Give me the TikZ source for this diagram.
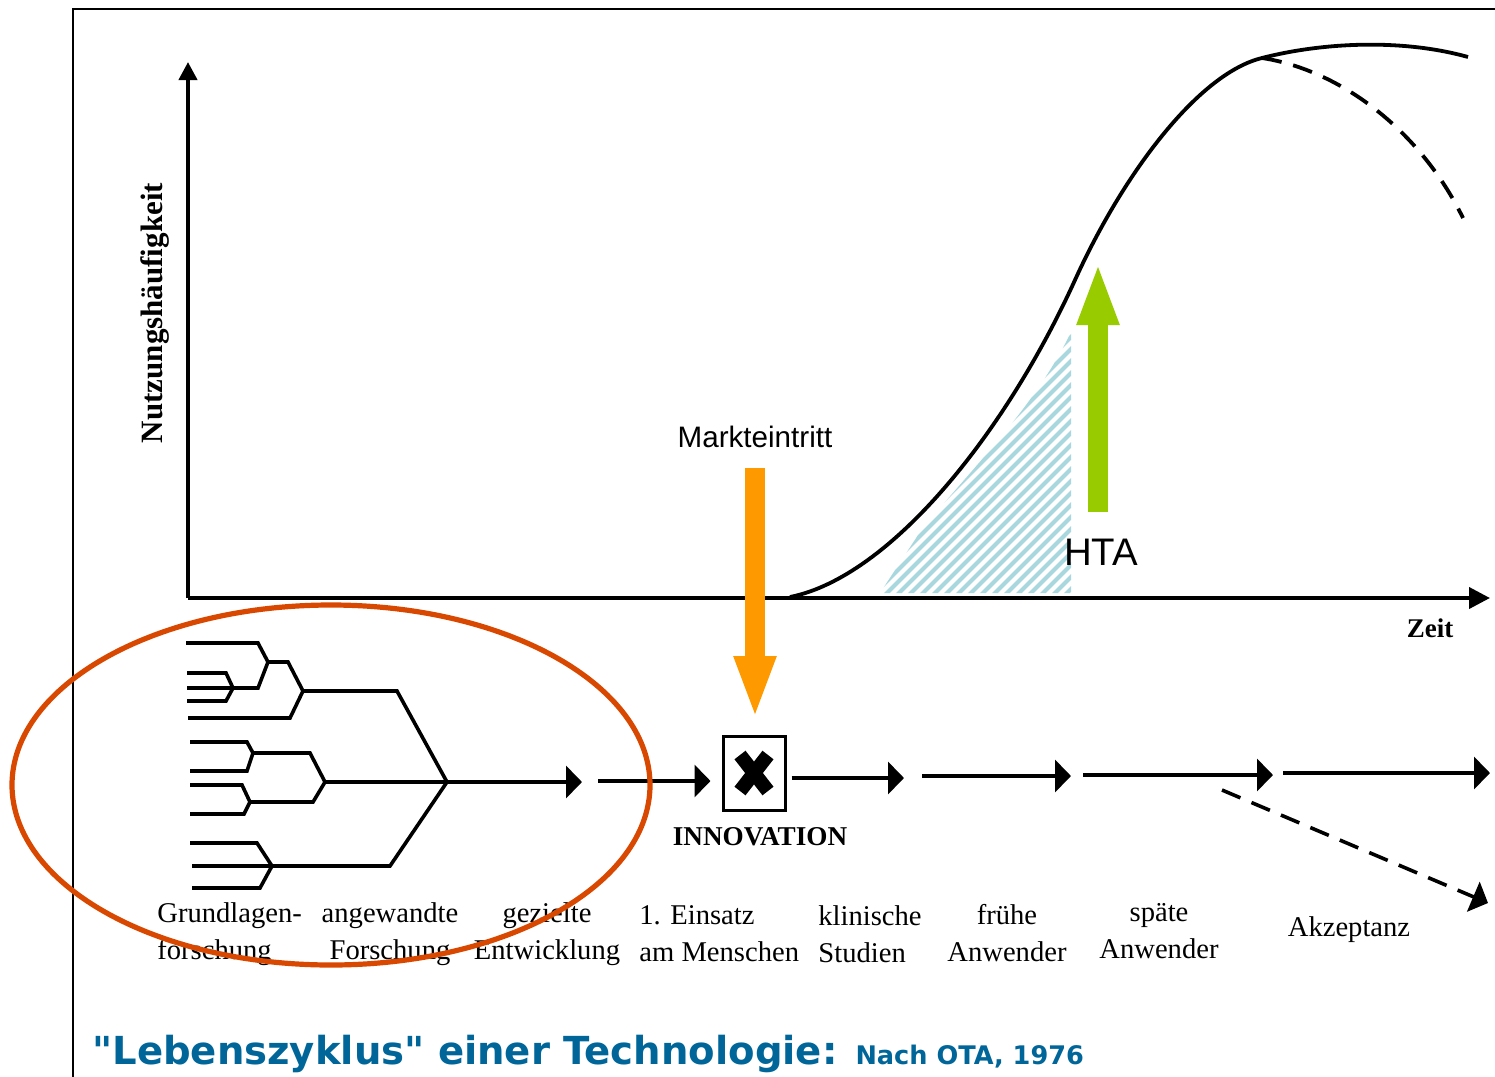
\documentclass[tikz,border=0pt]{standalone}
\usepackage{fontspec}
\setmainfont{Liberation Serif}
\newfontfamily\arialf{Liberation Sans}
\newfontfamily\titlef{DejaVu Sans}
\usetikzlibrary{arrows.meta}
\definecolor{ellred}{RGB}{217,72,0}
\definecolor{mkorange}{RGB}{255,153,0}
\definecolor{htagreen}{RGB}{153,204,0}
\definecolor{hatchblue}{RGB}{168,216,222}
\definecolor{titleblue}{RGB}{0,102,153}
\begin{document}
\begin{tikzpicture}[x=0.5pt,y=-0.5pt,
  yaxis/.style={line width=2pt,-{Triangle[length=9pt,width=9pt]}},
  xaxis/.style={line width=2pt,-{Triangle[length=10.5pt,width=10.5pt]}},
  flow/.style={line width=1.8pt,-{Triangle[length=8pt,width=16pt]}},
  dflow/.style={flow,dash pattern=on 10pt off 6pt},
  tree/.style={line width=1.8pt,line join=miter},
  lbl/.style={font=\fontsize{14.3}{18.5}\selectfont,inner sep=0pt},
  blockarrow/.style={line width=10pt,-{Triangle[length=31.5pt,width=19pt]}},
  hatchline/.style={hatchblue,line width=2pt}
]
\useasboundingbox (0,0) rectangle (1495,1077);
% frame
\draw[line width=1.2pt] (73,1077) -- (73,9) -- (1495,9);

% hatched area
\begin{scope}
\clip (880,593) -- (920,532) .. controls (968,472) and (1035,408) .. (1071,332) -- (1071,593) -- cycle;
\foreach \i in {0,...,45} \draw[hatchline] (700+\i*12,600) -- ++(400,-400);
\end{scope}

% axes
\coordinate (O) at (188,598);
\coordinate (Ytop) at (188,62);
\coordinate (Xend) at (1490,598);
\draw[yaxis] (O) -- (Ytop);
\draw[xaxis] (O) -- (Xend);
\node[font=\fontsize{15.5}{18}\selectfont\bfseries,rotate=90,inner sep=0pt] (ylab) at (155,313) {Nutzungshäufigkeit};
\node[font=\fontsize{13.5}{16}\selectfont\bfseries,inner sep=0pt] (xlab) at (1430,628) {Zeit};

% life cycle curve
\coordinate (cs) at (790,597);
\coordinate (ci) at (1075,280);
\coordinate (cb) at (1262,58);
\coordinate (ce) at (1468,57);
\coordinate (cd) at (1463,218);
\draw[line width=1.9pt] (cs) .. controls (890,577) and (1005,434) .. (ci)
  .. controls (1125,170) and (1200,73) .. (cb)
  .. controls (1320,43) and (1400,38) .. (ce);
\draw[line width=1.9pt,dash pattern=on 10pt off 6pt] (cb) .. controls (1340,70) and (1420,130) .. (cd);

% Markteintritt arrow
\node[font=\arialf\fontsize{14.8}{17}\selectfont,inner sep=0pt] (mk) at (755,437) {Markteintritt};
\coordinate (mks) at (755,468);
\coordinate (mke) at (755,719);
\draw[blockarrow,mkorange] (mks) -- (mke);

% HTA arrow
\node[font=\arialf\fontsize{19.2}{22}\selectfont,inner sep=0pt] (hta) at (1101,552) {HTA};
\coordinate (htas) at (1098,512);
\coordinate (htae) at (1098,262);
\draw[blockarrow,htagreen] (htas) -- (htae);

% tree
\coordinate (j1) at (268,662);
\coordinate (j1a) at (233,688);
\coordinate (j2) at (303,691);
\coordinate (j3) at (253,753);
\coordinate (j4) at (250,802);
\coordinate (j5) at (325,782);
\coordinate (j6) at (272,866);
\coordinate (jm) at (447,782);
\draw[tree] (186,643) -- (258,643) -- (j1) -- (288,662) -- (j2);
\draw[tree] (j1) -- (258,688) -- (187,688);
\draw[tree] (187,673) -- (226,673) -- (j1a);
\draw[tree] (187,701) -- (226,701) -- (j1a);
\draw[tree] (188,718) -- (290,718) -- (j2);
\draw[tree] (j2) -- (397,691) -- (jm);
\draw[tree] (190,742) -- (247,742) -- (j3) -- (247,771) -- (190,771);
\draw[tree] (j3) -- (310,753) -- (j5);
\draw[tree] (190,785) -- (242,785) -- (j4) -- (244,814) -- (190,814);
\draw[tree] (j4) -- (313,802) -- (j5);
\draw[tree] (190,843) -- (257,843) -- (j6) -- (260,888) -- (192,888);
\draw[tree] (192,866) -- (j6) -- (390,866) -- (jm);

% flow
\coordinate (a1e) at (582,782);
\draw[flow] (j5) -- (a1e);
\node[draw,line width=1.5pt,minimum width=31pt,minimum height=37pt,inner sep=0pt] (box) at (754,773) {};
\draw[line width=7pt] ([shift={(-14,-18)}]box.center) -- ([shift={(14,18)}]box.center);
\draw[line width=7pt] ([shift={(14,-18)}]box.center) -- ([shift={(-14,18)}]box.center);
\node[font=\fontsize{13.6}{16}\selectfont\bfseries,inner sep=0pt] (innov) at (760,837) {INNOVATION};
\coordinate (a2s) at (598,781);
\draw[flow,shorten >=5.5pt] (a2s) -- (box.west |- a2s);
\coordinate (a3e) at (904,778);
\draw[flow] (box.east |- a3e) ++(5,0) -- (a3e);
\coordinate (a4s) at (922,776); \coordinate (a4e) at (1071,776);
\draw[flow] (a4s) -- (a4e);
\coordinate (a5s) at (1083,775); \coordinate (a5e) at (1273,775);
\draw[flow] (a5s) -- (a5e);
\coordinate (a6s) at (1283,773); \coordinate (a6e) at (1490,773);
\draw[flow] (a6s) -- (a6e);
\coordinate (a7s) at (1222,790); \coordinate (a7e) at (1488,903);
\draw[dflow] (a7s) -- (a7e);

% stage labels
\node[lbl,align=left,anchor=west] (l1) at (157,934) {Grundlagen-\\forschung};
\node[lbl,align=center] (l2) at (390,934) {angewandte\\Forschung};
\node[lbl,align=center] (l3) at (547,934) {gezielte\\Entwicklung};
\node[lbl,align=left,anchor=west] (l4) at (639,934) {1. Einsatz\\am Menschen};
\node[lbl,align=left,anchor=west] (l5) at (818,934) {klinische\\Studien};
\node[lbl,align=center] (l6) at (1007,933) {frühe\\Anwender};
\node[lbl,align=center] (l7) at (1159,931) {späte\\Anwender};
\node[lbl] (l8) at (1349,930) {Akzeptanz};

% red ellipse
\draw[ellred,line width=2.6pt] (331,785) ellipse [x radius=319,y radius=180];

% title
\node[anchor=base west,inner sep=0pt,text=titleblue,font=\titlef\bfseries\fontsize{19.3}{22}\selectfont] (title) at (92,1064) {"Lebenszyklus" einer Technologie: {\fontsize{12.8}{15}\selectfont Nach OTA, 1976}};
\end{tikzpicture}
\end{document}
